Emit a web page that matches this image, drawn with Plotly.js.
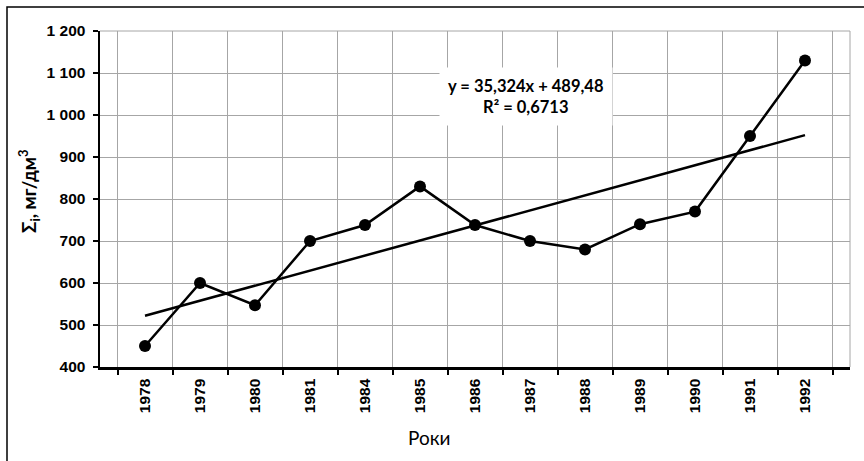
<!DOCTYPE html>
<html>
<head>
<meta charset="utf-8">
<script src="https://cdn.plot.ly/plotly-3.0.1.min.js"></script>
<style>html,body{margin:0;padding:0;background:#fff;}#chart{width:864px;height:461px;}</style>
</head>
<body>
<div id="chart"></div>
<script>
// Data
const years = ['1978','1979','1980','1981','1984','1985','1986','1987','1988','1989','1990','1991','1992'];
const values = [450, 600, 547, 700, 738, 830, 738, 700, 680, 740, 770, 950, 1130];
// Linear trend line end points (as drawn)
const trendYears = ['1978', '1992'];
const trendValues = [522, 952];
const equationText = 'y = 35,324x + 489,48';
const r2Text = 'R² = 0,6713';
// Y tick labels
const yTickVals = [400, 500, 600, 700, 800, 900, 1000, 1100, 1200];
const yTickText = ['400', '500', '600', '700', '800', '900', '1 000', '1 100', '1 200'];

const tickFont = {family: 'Liberation Sans', size: 15.5, color: '#000', weight: 'bold'};

const traces = [
  {
    x: trendYears, y: trendValues, type: 'scatter', mode: 'lines',
    line: {color: '#000', width: 2.5},
    showlegend: false, hoverinfo: 'skip'
  },
  {
    x: years, y: values, type: 'scatter', mode: 'lines+markers',
    line: {color: '#000', width: 2.5},
    marker: {color: '#000', size: 12},
    showlegend: false, hoverinfo: 'skip'
  }
];

const layout = {
  width: 864, height: 461,
  margin: {l: 100, r: 14, t: 31, b: 94},
  paper_bgcolor: '#fff', plot_bgcolor: '#fff',
  showlegend: false,
  xaxis: {
    type: 'category',
    categoryorder: 'array', categoryarray: years,
    tickson: 'boundaries',
    ticks: 'outside', ticklen: 5, tickwidth: 2, tickcolor: '#000',
    tickangle: -90,
    tickfont: tickFont,
    ticklabelstandoff: 3,
    showline: true, linecolor: '#000', linewidth: 2.5,
    showgrid: true, gridcolor: '#a6a6a6', gridwidth: 1,
    zeroline: false, fixedrange: true
  },
  yaxis: {
    range: [400, 1200],
    tickvals: yTickVals, ticktext: yTickText,
    ticks: 'outside', ticklen: 5, tickwidth: 2, tickcolor: '#000',
    tickfont: tickFont,
    ticklabelstandoff: 4,
    showline: true, linecolor: '#000', linewidth: 2.5,
    showgrid: true, gridcolor: '#a6a6a6', gridwidth: 1,
    zeroline: false, fixedrange: true
  },
  shapes: [
    {type: 'rect', xref: 'paper', yref: 'paper',
     x0: -0.124, x1: 1.2, y0: -0.6, y1: 1.0714,
     line: {color: '#000', width: 1.5}, fillcolor: 'rgba(0,0,0,0)', layer: 'below'},
    {type: 'line', xref: 'paper', yref: 'paper', x0: 1, x1: 1, y0: 0, y1: 1,
     line: {color: '#a6a6a6', width: 1}, layer: 'below'},
    {type: 'line', xref: 'paper', yref: 'paper', x0: 0, x1: 1, y0: 1, y1: 1,
     line: {color: '#a6a6a6', width: 1}, layer: 'below'}
  ],
  annotations: [
    {xref: 'paper', yref: 'paper', x: 0.568, y: 0.805,
     text: '<b>' + equationText + '</b><br><b>' + r2Text + '</b>',
     showarrow: false, align: 'center', xanchor: 'center', yanchor: 'middle',
     font: {family: 'Lato', size: 16.5, color: '#000'},
     bgcolor: '#fff', borderpad: 8},
    {xref: 'paper', yref: 'paper', x: 0.4387, y: -0.211,
     text: 'Роки', showarrow: false, xanchor: 'center', yanchor: 'middle',
     font: {family: 'Lato', size: 19, color: '#000'}},
    {xref: 'paper', yref: 'paper', x: -0.0947, y: 0.524,
     text: '<b>Σ<sub>i</sub>, мг/дм<sup>3</sup></b>', textangle: -90,
     showarrow: false, xanchor: 'center', yanchor: 'middle',
     font: {family: 'Lato', size: 18.5, color: '#000'}}
  ]
};

Plotly.newPlot('chart', traces, layout, {staticPlot: true, displayModeBar: false});
</script>
</body>
</html>
